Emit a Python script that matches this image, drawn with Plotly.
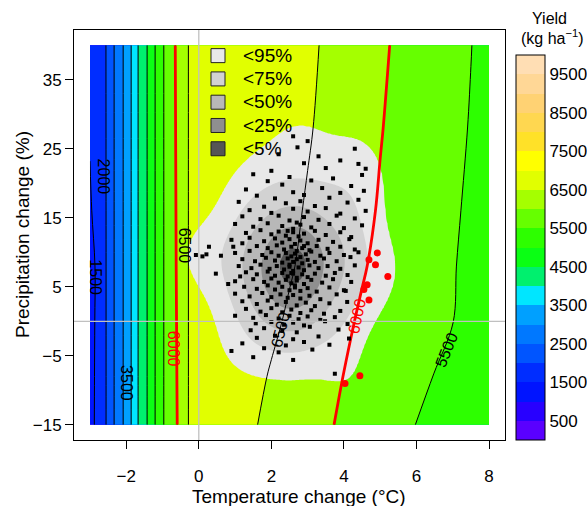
import numpy as np
import plotly.graph_objects as go

FONT = "Liberation Sans, Arial, sans-serif"

# ---------------- yield surface (kg/ha) ----------------
temp_grid = [-3.0, -2.85, -2.55, -2.33, -2.08, -1.86, -1.67, -1.42, -1.20, -0.96, -0.62, -0.28,
             0.5, 1.0, 1.6, 2.0, 2.5, 3.0, 3.5, 4.0, 4.5, 5.0, 5.5, 6.0, 6.5, 7.0, 7.5, 8.0]
precip_grid = [-15, -8, 0, 8, 16, 28, 40]
yield_grid = [
    [1380, 1530, 2010, 2510, 3010, 3510, 4010, 4510, 5010, 5510, 5960, 6510,
     6720, 6680, 6505, 6406, 6288, 6170, 6052, 5938, 5826, 5714, 5603, 5493, 5407, 5320, 5234, 5150],
    [1400, 1520, 2010, 2510, 3010, 3510, 4010, 4510, 5010, 5510, 5975, 6510,
     6740, 6730, 6580, 6465, 6347, 6229, 6111, 5994, 5893, 5792, 5692, 5591, 5490, 5393, 5297, 5200],
    [1420, 1510, 2010, 2510, 3010, 3510, 4010, 4510, 5010, 5510, 5990, 6510,
     6760, 6770, 6680, 6580, 6444, 6317, 6190, 6063, 5955, 5865, 5775, 5685, 5595, 5505, 5378, 5250],
    [1440, 1505, 2010, 2510, 3010, 3510, 4010, 4510, 5010, 5510, 6005, 6510,
     6780, 6800, 6730, 6650, 6540, 6407, 6281, 6156, 6030, 5924, 5824, 5724, 5624, 5524, 5405, 5280],
    [1470, 1560, 2010, 2510, 3010, 3510, 4010, 4510, 5010, 5510, 6015, 6510,
     6790, 6820, 6760, 6690, 6590, 6462, 6337, 6212, 6087, 5969, 5865, 5760, 5656, 5552, 5436, 5320],
    [1520, 1620, 2010, 2510, 3010, 3510, 4010, 4510, 5010, 5510, 6030, 6510,
     6800, 6840, 6800, 6740, 6640, 6540, 6407, 6277, 6148, 6018, 5908, 5801, 5694, 5588, 5480, 5350],
    [1560, 1680, 2010, 2510, 3010, 3510, 4010, 4510, 5010, 5510, 6045, 6510,
     6800, 6850, 6830, 6780, 6700, 6580, 6453, 6323, 6193, 6063, 5943, 5834, 5725, 5616, 5507, 5380],
]

# colour of each 500 kg/ha bin, 0-500 ... 9500-10000
bin_colors = ["#5a00ff", "#2800ff", "#0014ff", "#002dff", "#0055ff", "#0078ff", "#00a0ff",
              "#00e6ff", "#00f06e", "#0aff14", "#2dff00", "#66ff00", "#a5ff00", "#e1ff00",
              "#ffff00", "#ffe128", "#ffd750", "#ffd273", "#ffd796", "#ffdeb4"]
cbar_ticks = [500, 1500, 2500, 3500, 4500, 5500, 6500, 7500, 8500, 9500]

# contour labels: text, temperature, precipitation, angle, colour
contour_labels = [
    ("1500", -2.84, 6.4, 90, "black"),
    ("2000", -2.62, 21.0, 90, "black"),
    ("3500", -1.99, -8.9, 90, "black"),
    ("6500", -0.37, 10.9, 90, "black"),
    ("6000", -0.71, -4.0, 90, "red"),
    ("6500", 2.26, -1.25, -76, "black"),
    ("6000", 4.37, 0.8, -78, "red"),
    ("5500", 6.84, -4.15, -68, "black"),
]

# ---------------- simulated climate-change scenarios (temperature, precipitation) ----------------
black_pts = [
    (2.60, 26.8), (3.00, 26.1), (2.72, 25.2), (4.30, 25.0), (2.20, 24.2), (3.30, 23.9),
    (3.90, 23.3), (4.40, 22.8), (2.90, 22.9), (3.50, 22.2), (2.00, 21.8), (4.60, 22.1),
    (1.50, 21.3), (3.70, 20.7), (4.50, 21.2), (2.50, 20.9), (2.30, 19.8), (3.10, 20.4),
    (4.20, 19.6), (1.90, 20.3), (1.30, 19.1), (2.60, 18.7), (3.40, 19.3), (3.90, 18.6),
    (4.55, 18.9), (1.60, 18.2), (2.10, 17.8), (2.90, 18.3), (4.40, 17.6), (3.60, 17.9),
    (1.10, 17.3), (2.40, 17.1), (3.20, 16.7), (4.10, 17.2), (1.80, 16.6), (2.80, 17.4),
    (1.40, 16.1), (2.00, 15.7), (2.60, 16.3), (3.00, 15.9), (3.50, 16.4), (4.60, 16.0), (3.90, 15.6),
    (1.20, 15.2), (1.70, 14.8), (2.20, 15.3), (2.50, 14.6), (2.90, 15.1), (3.30, 14.7), (3.80, 15.3),
    (4.30, 14.9), (2.70, 14.3),
    (1.00, 14.1), (1.50, 13.7), (1.90, 14.2), (2.30, 13.8), (2.60, 13.4), (2.80, 14.0), (3.10, 13.6),
    (3.60, 14.1), (4.00, 13.5), (4.50, 13.9), (2.45, 13.1),
    (1.30, 12.8), (1.70, 13.2), (2.00, 12.6), (2.20, 13.0), (2.40, 12.4), (2.60, 12.9), (2.75, 12.3),
    (2.90, 12.7), (3.20, 13.1), (3.50, 12.5), (3.90, 12.9), (4.20, 12.2),
    (0.90, 11.8), (1.40, 12.1), (1.80, 11.6), (2.10, 12.0), (2.30, 11.4), (2.50, 11.9), (2.65, 11.2),
    (2.80, 11.7), (3.00, 11.3), (3.30, 11.8), (3.70, 11.5), (4.15, 11.9), (2.90, 10.9),
    (0.95, 10.8), (1.20, 11.3), (1.60, 10.9), (1.90, 10.6), (2.15, 11.0), (2.35, 10.4), (2.55, 10.8),
    (2.70, 10.2), (2.85, 10.6), (3.05, 10.3), (3.25, 10.9), (3.55, 10.5), (3.90, 10.8), (4.30, 10.4),
    (0.28, 10.8),
    (1.00, 9.9), (1.40, 10.2), (1.75, 9.6), (2.00, 10.0), (2.20, 9.5), (2.40, 9.9), (2.55, 9.4),
    (2.65, 9.8), (2.80, 9.3), (2.95, 9.7), (3.10, 10.1), (3.35, 9.5), (3.60, 9.9), (4.00, 9.6),
    (4.40, 10.0), (0.21, 9.7), (0.61, 9.5),
    (-0.08, 9.6), (0.10, 9.4), (1.20, 9.0), (1.55, 8.7), (1.85, 9.2), (2.10, 8.8), (2.30, 8.5),
    (2.45, 9.1), (2.60, 8.6), (2.70, 9.0), (2.85, 8.4), (3.00, 8.9), (3.20, 8.6), (3.45, 9.1),
    (3.80, 8.7), (4.18, 9.3), (2.50, 8.2),
    (1.10, 8.0), (1.45, 7.7), (1.70, 8.2), (1.95, 7.6), (2.15, 8.0), (2.35, 7.5), (2.50, 7.9),
    (2.60, 7.3), (2.75, 7.8), (2.90, 7.4), (3.05, 8.1), (3.30, 7.7), (3.55, 8.0), (3.90, 7.6),
    (4.30, 8.1), (2.55, 7.0),
    (0.47, 6.9), (1.30, 7.1), (1.60, 6.8), (1.90, 7.2), (2.10, 6.6), (2.30, 7.0), (2.45, 6.5),
    (2.60, 6.9), (2.70, 6.3), (2.85, 6.8), (3.00, 6.4), (3.20, 6.9), (3.50, 6.6), (3.75, 7.0), (4.10, 6.7),
    (1.14, 6.5), (1.00, 5.8), (1.50, 6.1), (1.80, 5.7), (2.00, 6.2), (2.20, 5.6), (2.40, 6.0),
    (2.55, 5.5), (2.70, 5.9), (2.90, 5.4), (3.10, 6.0), (3.40, 5.6), (3.70, 6.1), (4.20, 5.7), (2.65, 5.2),
    (0.81, 5.4), (1.25, 5.0), (1.60, 4.7), (1.90, 5.2), (2.10, 4.6), (2.30, 5.0), (2.50, 4.5),
    (2.65, 4.9), (2.80, 4.4), (3.00, 4.8), (3.25, 4.3), (3.60, 4.9), (4.00, 4.5),
    (1.00, 4.0), (1.40, 3.6), (1.75, 4.1), (2.00, 3.5), (2.25, 3.9), (2.45, 3.4), (2.60, 3.8),
    (2.80, 3.3), (3.05, 3.7), (3.35, 3.2), (3.80, 3.9), (4.05, 4.4),
    (1.20, 2.9), (1.60, 2.5), (1.90, 3.0), (2.15, 2.4), (2.40, 2.8), (2.70, 2.3), (2.95, 2.7),
    (3.20, 2.2), (3.60, 2.6), (4.09, 2.8),
    (1.30, 1.8), (1.70, 1.4), (2.00, 1.9), (2.30, 1.3), (2.55, 1.7), (2.80, 1.2), (3.10, 1.6),
    (3.45, 1.1), (3.90, 1.5),
    (1.00, 0.8), (1.50, 0.5), (1.85, 0.9), (2.20, 0.4), (2.50, 0.8), (2.75, 0.3), (3.00, 0.7),
    (3.35, 0.2), (3.75, 0.6),
    (1.57, -0.3), (2.00, -0.1), (2.35, -0.5), (2.60, -0.2), (2.90, -0.6), (3.48, 0.0), (4.10, -0.4),
    (1.43, -1.3), (1.80, -1.0), (2.30, -1.4), (3.06, -0.8), (3.85, -1.2), (2.70, -1.6),
    (1.60, -2.4), (2.10, -2.1), (2.60, -2.6), (3.30, -2.2), (4.14, -2.5),
    (1.20, -3.2), (2.40, -3.5), (2.90, -3.0), (3.60, -3.4),
    (1.80, -3.9), (3.13, -4.1), (2.20, -4.5),
    (1.50, -5.2), (2.60, -5.6), (0.90, -4.3),
    (3.75, -7.6),
]
# scenarios with yield below 6000 kg/ha
red_pts = [(4.92, 9.9), (4.69, 8.9), (4.87, 8.2), (5.21, 6.5), (4.64, 5.3), (4.55, 4.6),
           (4.69, 3.1), (4.03, -9.0), (4.44, -7.9)]

density_labels = ["&lt;95%", "&lt;75%", "&lt;50%", "&lt;25%", "&lt;5%"]
density_probs = [0.95, 0.75, 0.50, 0.25, 0.05]
density_colors = ["#e8e8e8", "#d2d2d2", "#b8b8b8", "#8f8f8f", "#555555"]

# ---------------- kernel density of the scenarios ----------------
bt = np.array([p[0] for p in black_pts])
bp = np.array([p[1] for p in black_pts])
rt = np.array([p[0] for p in red_pts])
rp = np.array([p[1] for p in red_pts])
all_t = np.concatenate([bt, rt])
all_p = np.concatenate([bp, rp])
bw_t, bw_p = 0.52, 3.5
gx = np.linspace(-3, 8, 221)
gy = np.linspace(-15, 40, 276)
kx = np.exp(-0.5 * ((gx[None, :] - all_t[:, None]) / bw_t) ** 2)
ky = np.exp(-0.5 * ((gy[None, :] - all_p[:, None]) / bw_p) ** 2)
dens = ky.T @ kx
flat = np.sort(dens.ravel())[::-1]
cum = np.cumsum(flat) / flat.sum()
thr = [flat[np.searchsorted(cum, p)] for p in density_probs]
dz = np.interp(dens, [0.0] + thr + [dens.max() * 1.01], [0, 1, 2, 3, 4, 5, 6])

# ---------------- figure ----------------
yield_cs = [[k / 19, c] for k, c in enumerate(bin_colors)]
dens_cs = [[0.0, "rgba(0,0,0,0)"], [0.2, density_colors[0]], [0.4, density_colors[1]],
           [0.6, density_colors[2]], [0.8, density_colors[3]], [1.0, density_colors[4]]]

fig = go.Figure()
fig.add_trace(go.Contour(
    x=temp_grid, y=precip_grid, z=yield_grid, autocontour=False,
    contours=dict(start=500, end=9500, size=500, coloring="fill", showlines=False),
    zmin=0, zmax=10000, colorscale=yield_cs, line=dict(width=0), hoverinfo="skip",
    showscale=True, showlegend=False,
    colorbar=dict(x=(516 - 74) / 431, xanchor="left", xpad=0, y=0, yanchor="bottom", ypad=0,
                  len=385 / 410, lenmode="fraction", thickness=29, thicknessmode="pixels",
                  outlinewidth=1, outlinecolor="black", tickvals=cbar_ticks, ticks="",
                  tickfont=dict(size=17, family=FONT, color="black")),
))
fig.add_trace(go.Contour(
    x=gx, y=gy, z=dz, autocontour=False,
    contours=dict(start=1, end=5, size=1, coloring="fill", showlines=False),
    colorscale=dens_cs, line=dict(width=0), showscale=False, showlegend=False, hoverinfo="skip",
))
fig.add_trace(go.Contour(
    x=temp_grid, y=precip_grid, z=yield_grid, autocontour=False,
    contours=dict(start=500, end=9500, size=500, coloring="none"),
    line=dict(color="black", width=1), showscale=False, showlegend=False, hoverinfo="skip",
))
fig.add_trace(go.Contour(
    x=temp_grid, y=precip_grid, z=yield_grid, autocontour=False,
    contours=dict(start=6000, end=6000, size=1000, coloring="none"),
    line=dict(color="red", width=2.8), showscale=False, showlegend=False, hoverinfo="skip",
))
fig.add_trace(go.Scatter(x=bt, y=bp, mode="markers", showlegend=False, hoverinfo="skip",
                         marker=dict(symbol="square", size=4, color="black")))
fig.add_trace(go.Scatter(x=rt, y=rp, mode="markers", showlegend=False, hoverinfo="skip",
                         marker=dict(symbol="circle", size=7, color="red")))
for lab, col in zip(density_labels, density_colors):
    fig.add_trace(go.Scatter(
        x=[None], y=[None], mode="markers", showlegend=True,
        name='<span style="font-size:19px">' + lab + "</span>",
        marker=dict(symbol="square", size=14, color=col, line=dict(color="#222222", width=1))))

annotations = []
for txt, tx, py, ang, col in contour_labels:
    annotations.append(dict(x=tx, y=py, xref="x", yref="y", text=txt, showarrow=False,
                            xanchor="center", yanchor="middle",
                            textangle=ang, font=dict(size=16, family=FONT, color=col)))
annotations += [
    dict(x=(299 - 74) / 431, y=(440 - 496) / 410, xref="paper", yref="paper",
         xanchor="center", yanchor="middle",
         text="Temperature change (°C)", showarrow=False,
         font=dict(size=19, family=FONT, color="black")),
    dict(x=(22 - 74) / 431, y=0.5, xref="paper", yref="paper", textangle=-90,
         xanchor="center", yanchor="middle",
         text="Precipitation change (%)", showarrow=False,
         font=dict(size=19, family=FONT, color="black")),
    dict(x=(549 - 74) / 431, y=(440 - 19) / 410, xref="paper", yref="paper",
         xanchor="center", yanchor="middle",
         text="Yield", showarrow=False, font=dict(size=16, family=FONT, color="black")),
    dict(x=(552 - 74) / 431, y=(440 - 37) / 410, xref="paper", yref="paper",
         xanchor="center", yanchor="middle",
         text="(kg ha<sup>−1</sup>)", showarrow=False,
         font=dict(size=16, family=FONT, color="black")),
]

fig.update_layout(
    width=587, height=506, margin=dict(l=74, r=82, t=30, b=66, autoexpand=False),
    paper_bgcolor="white", plot_bgcolor="white", hovermode=False,
    font=dict(family=FONT, color="black"),
    xaxis=dict(range=[-3.44, 8.44], tickvals=[-2, 0, 2, 4, 6, 8], ticks="outside", ticklen=8,
               tickcolor="black", showgrid=False, zeroline=False, showline=True, mirror=True,
               linecolor="black", linewidth=1, tickfont=dict(size=17, family=FONT),
               ticklabelstandoff=13),
    yaxis=dict(range=[-17.2, 42.2], tickvals=[-15, -5, 5, 15, 25, 35], ticks="outside", ticklen=8,
               tickcolor="black", showgrid=False, zeroline=False, showline=True, mirror=True,
               linecolor="black", linewidth=1, tickfont=dict(size=17, family=FONT)),
    legend=dict(x=(193 - 74) / 431, y=(440 - 39) / 410, xanchor="left", yanchor="top",
                itemwidth=40,
                bgcolor="rgba(0,0,0,0)", borderwidth=0, font=dict(size=15.6, family=FONT)),
    annotations=annotations,
    shapes=[
        dict(type="line", xref="x", yref="paper", x0=0, x1=0, y0=0, y1=1,
             line=dict(color="#c0c0c0", width=1.3), layer="above"),
        dict(type="line", xref="paper", yref="y", x0=0, x1=1, y0=0, y1=0,
             line=dict(color="#c0c0c0", width=1.3), layer="above"),
    ],
)
fig.write_html("out.html", config={"displayModeBar": False},
               post_script="document.body.style.margin='0px';document.body.style.overflow='hidden';")
